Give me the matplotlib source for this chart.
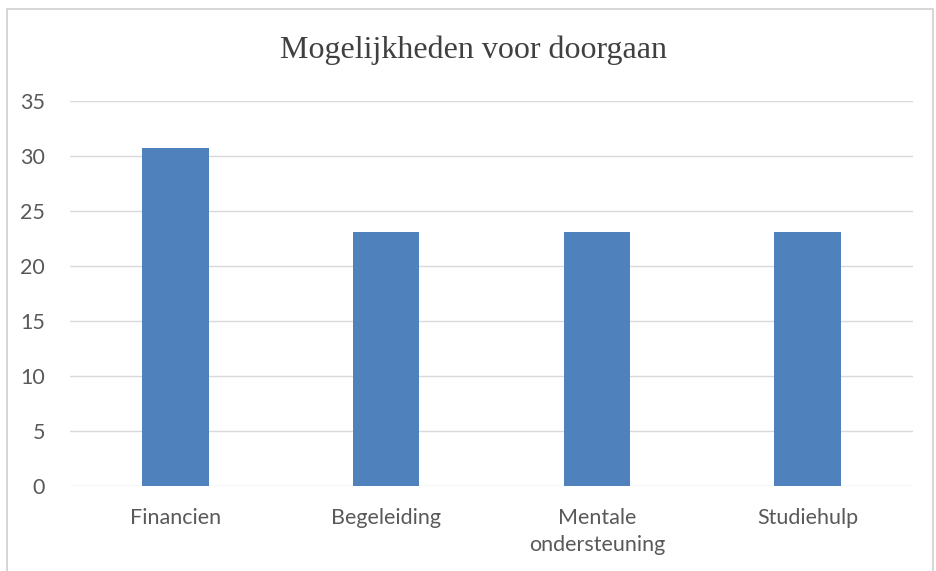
import matplotlib.pyplot as plt
from matplotlib.patches import Rectangle

categories = ["Financien", "Begeleiding", "Mentale\nondersteuning", "Studiehulp"]
values = [30.77, 23.08, 23.08, 23.08]
yticks = [0, 5, 10, 15, 20, 25, 30, 35]

fig = plt.figure(figsize=(9.37, 5.71), dpi=100)
ax = fig.add_axes([70 / 937, 1 - 486 / 571, (913 - 70) / 937, (486 - 101) / 571])

ax.bar(range(len(categories)), values, width=0.315, color="#4f81bd", zorder=3)
ax.set_xlim(-0.5, len(categories) - 0.5)
ax.set_ylim(0, 35)
ax.set_yticks(yticks)
ax.set_xticks(range(len(categories)))
ax.set_xticklabels(categories, fontsize=15.5, color="#595959", family="Lato", linespacing=1.45, va="top")
ax.set_yticklabels([str(v) for v in yticks], fontsize=15.5, color="#595959", family="Lato")
ax.tick_params(axis="both", length=0)
ax.tick_params(axis="x", pad=16)
ax.tick_params(axis="y", pad=18)
ax.grid(axis="y", color="#d9d9d9", linewidth=1, zorder=0)
for s in ax.spines.values():
    s.set_visible(False)

fig.text(473 / 937, 1 - 50 / 571, "Mogelijkheden voor doorgaan", ha="center", va="center",
         fontsize=23, family="Liberation Serif", color="#404040")

# outer chart border
fig.patches.append(Rectangle((7 / 937, -0.01), 926 / 937, 1 - 9 / 571 + 0.01, transform=fig.transFigure,
                             fill=False, edgecolor="#d0d0d0", linewidth=1.2))

fig.savefig("out.png", dpi=100)
